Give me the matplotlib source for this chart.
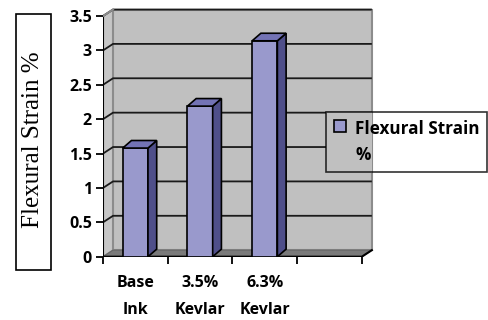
import matplotlib
matplotlib.use('Agg')
import matplotlib.pyplot as plt
from matplotlib.patches import Polygon, Rectangle

categories = ['Base\nInk', '3.5%\nKevlar', '6.3%\nKevlar']
strain = [1.58, 2.19, 3.14]
series_name = 'Flexural Strain\n%'
y_ticks = [0, 0.5, 1, 1.5, 2, 2.5, 3, 3.5]
n_slots = 4

front = '#9999cc'
side = '#4f4f8a'
top = '#7373b5'
wall = '#c0c0c0'
wall_edge = '#8c8c8c'
floor = '#7a7a7a'

# depth offsets (data units) for the fake 3D look
wdx, wdy = 0.155, 0.095
bdx, bdy = 0.135, 0.11
bw = 0.39

fig = plt.figure(figsize=(4.88, 3.2), dpi=100)
ax = fig.add_axes([103/488, 63.3/320, 275/488, 254.4/320])
ax.set_xlim(0, 4.25)
ax.set_ylim(0, 3.7)
for s in ax.spines.values():
    s.set_visible(False)
ax.set_facecolor('none')

ymax = y_ticks[-1]
# walls and floor
ax.add_patch(Polygon([(0, 0), (wdx, wdy), (wdx, ymax + wdy), (0, ymax)],
                     closed=True, fc='#c6c6c6', ec=wall_edge, lw=1.2, zorder=1))
ax.add_patch(Rectangle((wdx, wdy), n_slots, ymax, fc=wall, ec=wall_edge, lw=1.5, zorder=1))
ax.add_patch(Polygon([(0, 0), (n_slots, 0), (n_slots + wdx, wdy), (wdx, wdy)],
                     closed=True, fc=floor, ec='#666666', lw=0.8, zorder=1.5))

# gridlines on side + back wall
for t in y_ticks[1:]:
    ax.plot([0, wdx, n_slots + wdx], [t, t + wdy, t + wdy], color='#1a1a1a', lw=1.3, zorder=2,
            solid_capstyle='butt')

# cover gridlines behind the (transparent) legend
lg_x0, lg_y0, lg_x1, lg_y1 = 326/488, (320-173)/320, 487/488, (320-112)/320
ax.add_patch(Rectangle((lg_x0, lg_y0), (103 + (n_slots + wdx) * 64.75) / 488 - lg_x0, lg_y1 - lg_y0,
                       transform=fig.transFigure, fc=wall, ec='none', zorder=2.5))

# axis lines
ax.plot([0, 0], [0, ymax], color='black', lw=1.5, zorder=3)
ax.plot([0, wdx], [ymax, ymax + wdy], color=wall_edge, lw=1.5, zorder=3)
ax.plot([0, n_slots, n_slots + wdx], [0, 0, wdy], color='black', lw=1.5, zorder=3)

# bars
xs = [i + 0.5 for i in range(len(strain))]
bars = ax.bar(xs, strain, width=bw, color=front, edgecolor='black', lw=1.2, zorder=4,
              label=series_name)
for x, v in zip(xs, strain):
    r = x + bw / 2
    l = x - bw / 2
    ax.add_patch(Polygon([(r, 0), (r + bdx, bdy), (r + bdx, v + bdy), (r, v)],
                         closed=True, fc=side, ec='black', lw=1.2, zorder=4))
    ax.add_patch(Polygon([(l, v), (r, v), (r + bdx, v + bdy), (l + bdx, v + bdy)],
                         closed=True, fc=top, ec='black', lw=1.2, zorder=4))

tick_font = dict(family='Open Sans', weight='bold', size=11.5)
ax.set_yticks(y_ticks)
ax.set_yticklabels([f'{t:g}' for t in y_ticks], **tick_font)
ax.tick_params(axis='y', length=5, width=1.3, pad=3, direction='out')
ax.set_xticks(range(n_slots + 1))
ax.set_xticklabels([''] * (n_slots + 1))
ax.tick_params(axis='x', which='major', length=5, width=1.3, direction='out')
ax.set_xticks(xs, minor=True)
ax.set_xticklabels(categories, minor=True, linespacing=1.9, **tick_font)
ax.tick_params(axis='x', which='minor', length=0, pad=13)

# y label inside a box
fig.add_artist(Rectangle((16/488, 50/320), 35/488, 256/320, transform=fig.transFigure,
                         fc='white', ec='black', lw=1.2))
fig.text(33/488, (320-140)/320, 'Flexural Strain %', rotation=90, ha='center', va='center',
         family='Liberation Serif', size=18)

leg = ax.legend(loc='upper left', bbox_to_anchor=(lg_x0, lg_y1), bbox_transform=fig.transFigure,
                borderaxespad=0, frameon=True, fancybox=False, handlelength=0.7, handleheight=0.7,
                handletextpad=0.55, borderpad=0.45, prop=dict(family='Open Sans', weight='bold', size=12.3))
leg.get_frame().set_facecolor('none')
leg.get_frame().set_edgecolor('black')
leg.get_frame().set_linewidth(1.2)
leg.set_zorder(5)
for t in leg.get_texts():
    t.set_linespacing(1.6)
# put the marker next to the first line of the label
for col in leg._legend_handle_box.get_children():
    for row in col.get_children():
        row.align = 'top'

fig.savefig('out.png', dpi=100)
